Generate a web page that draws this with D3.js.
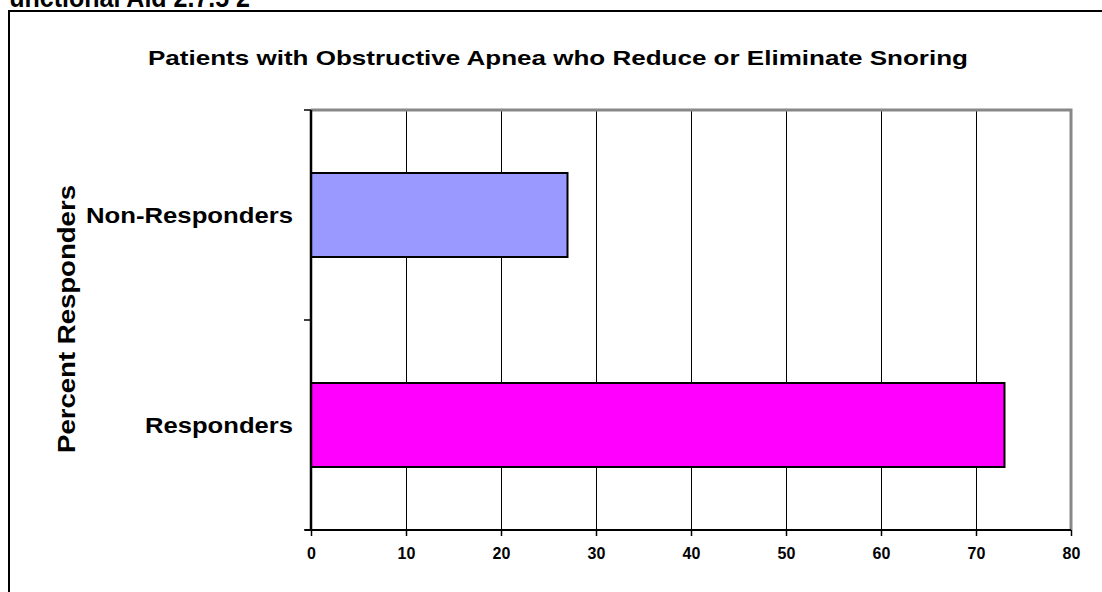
<!DOCTYPE html>
<html>
<head>
<meta charset="utf-8">
<script src="https://cdn.jsdelivr.net/npm/d3@7"></script>
<style>
  html, body { margin: 0; padding: 0; background: #fff; overflow: hidden; }
  svg { display: block; font-family: Arial, "Liberation Sans", sans-serif; }
</style>
</head>
<body>
<svg id="chart" width="1102" height="592"></svg>
<script>
// Chart data
const categories = ["Non-Responders", "Responders"];
const values = [27, 73];
const barColors = ["#9999FF", "#FF00FF"];
const xTicks = [0, 10, 20, 30, 40, 50, 60, 70, 80];
const titleText = "Patients with Obstructive Apnea who Reduce or Eliminate Snoring";
const yTitle = "Percent Responders";

const svg = d3.select("#chart");

// Plot frame
const plot = { left: 311, right: 1071, top: 110, bottom: 530 };

// Outer chart frame
svg.append("rect")
  .attr("x", 9).attr("y", 11)
  .attr("width", 1110).attr("height", 600)
  .attr("fill", "none").attr("stroke", "#000").attr("stroke-width", 2);

// Page heading, clipped by the top edge
svg.append("text")
  .attr("x", -6).attr("y", 7)
  .attr("font-size", 28).attr("font-weight", "bold")
  .attr("textLength", 256).attr("lengthAdjust", "spacingAndGlyphs")
  .text("Functional Aid 2.7.5 2");

const x = d3.scaleLinear().domain([0, 80]).range([plot.left, plot.right]);
const y = d3.scaleBand().domain(categories).range([plot.top, plot.bottom]).paddingInner(0.6).paddingOuter(0.3);

// Vertical gridlines
svg.append("g").selectAll("line")
  .data(xTicks.filter(d => d > 0 && d < 80))
  .join("line")
  .attr("x1", d => Math.round(x(d)) + 0.5).attr("x2", d => Math.round(x(d)) + 0.5)
  .attr("y1", plot.top).attr("y2", plot.bottom)
  .attr("stroke", "#000").attr("stroke-width", 1);

// Top and right plot border
svg.append("path")
  .attr("d", `M${plot.left},${plot.top}H${plot.right}V${plot.bottom}`)
  .attr("fill", "none").attr("stroke", "#888").attr("stroke-width", 3);

// Bars
svg.append("g").selectAll("rect")
  .data(categories)
  .join("rect")
  .attr("x", x(0))
  .attr("y", d => Math.round(y(d)))
  .attr("width", (d, i) => x(values[i]) - x(0))
  .attr("height", Math.round(y.bandwidth()))
  .attr("fill", (d, i) => barColors[i])
  .attr("stroke", "#000").attr("stroke-width", 2);

// X axis
const xAxis = d3.axisBottom(x).tickValues(xTicks).tickSize(6).tickPadding(12);
const gx = svg.append("g")
  .attr("transform", `translate(0,${plot.bottom})`)
  .call(xAxis);
gx.select(".domain").attr("stroke-width", 2).attr("d", `M${plot.left - 6},0H${plot.right}`);
gx.selectAll(".tick line").attr("stroke-width", 1.5);
gx.selectAll(".tick text")
  .attr("font-size", 16).attr("font-weight", "bold")
  .attr("font-family", "Arial, 'Liberation Sans', sans-serif").attr("fill", "#000");

// Y axis: category boundaries as ticks
const yBounds = d3.scaleLinear().domain([0, categories.length]).range([plot.top, plot.bottom]);
const gy = svg.append("g");
gy.selectAll("line.tick")
  .data(d3.range(categories.length + 1))
  .join("line")
  .attr("x1", plot.left - 7).attr("x2", plot.left)
  .attr("y1", d => yBounds(d)).attr("y2", d => yBounds(d))
  .attr("stroke", "#000").attr("stroke-width", 1.5);
gy.append("line")
  .attr("x1", plot.left).attr("x2", plot.left)
  .attr("y1", plot.top).attr("y2", plot.bottom)
  .attr("stroke", "#000").attr("stroke-width", 2.5);

// Category labels (text widened to the chart's proportions)
const labelWidths = [207, 148];
svg.append("g").selectAll("text")
  .data(categories)
  .join("text")
  .attr("x", plot.left - 18)
  .attr("y", d => y(d) + y.bandwidth() / 2)
  .attr("dy", "0.36em")
  .attr("text-anchor", "end")
  .attr("font-size", 22).attr("font-weight", "bold")
  .attr("textLength", (d, i) => labelWidths[i])
  .attr("lengthAdjust", "spacingAndGlyphs")
  .text(d => d);

// Title
svg.append("text")
  .attr("x", 558).attr("y", 65)
  .attr("text-anchor", "middle")
  .attr("font-size", 21).attr("font-weight", "bold")
  .attr("textLength", 820).attr("lengthAdjust", "spacingAndGlyphs")
  .text(titleText);

// Y axis title
svg.append("text")
  .attr("transform", `translate(67,319) rotate(-90)`)
  .attr("text-anchor", "middle")
  .attr("dy", "0.36em")
  .attr("font-size", 23).attr("font-weight", "bold")
  .attr("textLength", 268).attr("lengthAdjust", "spacingAndGlyphs")
  .text(yTitle);
</script>
</body>
</html>
